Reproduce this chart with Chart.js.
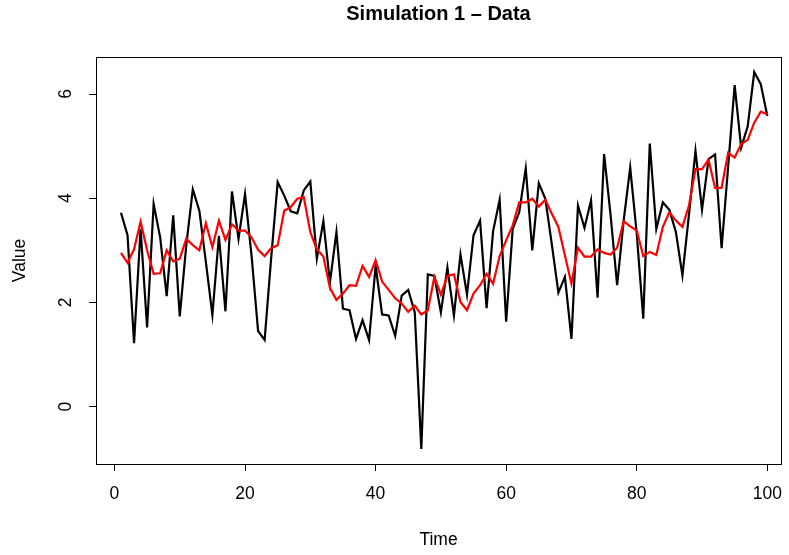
<!DOCTYPE html>
<html>
<head>
<meta charset="utf-8">
<script src="https://cdn.jsdelivr.net/npm/chart.js@4.4.1/dist/chart.umd.min.js"></script>
<style>
  html, body { margin: 0; padding: 0; background: #fff; }
  #wrap { width: 789px; height: 555px; }
</style>
</head>
<body>
<div id="wrap"><canvas id="chart" width="789" height="555"></canvas></div>
<script>
// Data
const dataValues = [
  3.72, 3.29, 1.22, 3.41, 1.52, 3.89, 3.25, 2.12, 3.67, 1.73,
  3.10, 4.17, 3.76, 2.78, 1.76, 3.28, 1.83, 4.13, 3.22, 4.08,
  2.90, 1.45, 1.28, 2.85, 4.31, 4.05, 3.75, 3.71, 4.15, 4.32,
  2.84, 3.56, 2.38, 3.35, 1.88, 1.85, 1.30, 1.66, 1.28, 2.70,
  1.77, 1.75, 1.36, 2.13, 2.24, 1.81, -0.81, 2.54, 2.51, 1.81,
  2.67, 1.75, 2.92, 2.15, 3.29, 3.57, 1.89, 3.37, 3.97, 1.63,
  3.41, 3.73, 4.57, 3.00, 4.29, 3.99, 3.11, 2.19, 2.49, 1.30,
  3.86, 3.43, 3.96, 2.09, 4.85, 3.67, 2.33, 3.57, 4.59, 3.32,
  1.69, 5.05, 3.41, 3.92, 3.78, 3.35, 2.52, 3.68, 4.91, 3.78,
  4.75, 4.84, 3.04, 4.60, 6.17, 4.97, 5.38, 6.42, 6.19, 5.58
];
const fittedValues = [
  2.95, 2.76, 3.02, 3.55, 3.00, 2.55, 2.56, 3.00, 2.79, 2.84,
  3.22, 3.10, 3.00, 3.52, 3.06, 3.57, 3.20, 3.50, 3.38, 3.38,
  3.25, 3.01, 2.89, 3.04, 3.10, 3.76, 3.83, 3.99, 4.02, 3.35,
  3.02, 2.88, 2.28, 2.05, 2.17, 2.33, 2.32, 2.70, 2.49, 2.81,
  2.40, 2.24, 2.08, 1.98, 1.82, 1.94, 1.77, 1.85, 2.49, 2.15,
  2.51, 2.54, 2.01, 1.85, 2.17, 2.33, 2.55, 2.36, 2.89, 3.19,
  3.48, 3.92, 3.92, 3.99, 3.84, 3.97, 3.70, 3.45, 2.90, 2.36,
  3.05, 2.88, 2.88, 3.02, 2.95, 2.92, 3.05, 3.56, 3.46, 3.38,
  2.89, 2.97, 2.91, 3.45, 3.73, 3.57, 3.45, 3.86, 4.56, 4.56,
  4.74, 4.20, 4.20, 4.87, 4.78, 5.04, 5.12, 5.45, 5.66, 5.61
];
const xTicks = [0, 20, 40, 60, 80, 100];
const yTicks = [0, 2, 4, 6];

const FONT = "'Liberation Sans', Arial, Helvetica, sans-serif";
const AXIS_SIZE = 17.5;

function toPoints(vals){ return vals.map((v,i)=>({x:i+1, y:v})); }

// box round the plot and rotated y tick labels, like base R
const rStyle = {
  id: 'rStyle',
  afterDraw(chart){
    const ctx = chart.ctx, a = chart.chartArea;
    ctx.save();
    ctx.strokeStyle = '#000';
    ctx.lineWidth = 1;
    ctx.strokeRect(a.left+0.5, a.top+0.5, a.right-a.left, a.bottom-a.top);
    const ys = chart.scales.y;
    ctx.fillStyle = '#000';
    ctx.font = AXIS_SIZE + 'px ' + FONT;
    ctx.textAlign = 'center';
    ctx.textBaseline = 'middle';
    ys.ticks.forEach(t=>{
      const py = ys.getPixelForValue(t.value);
      ctx.save();
      ctx.translate(66, py);
      ctx.rotate(-Math.PI/2);
      ctx.fillText(String(t.value), 0, 0);
      ctx.restore();
    });
    ctx.restore();
  }
};

new Chart(document.getElementById('chart'), {
  type: 'line',
  data: {
    datasets: [
      {label:'Data', data: toPoints(dataValues), borderColor:'#000', borderWidth:2.2,
       pointRadius:0, tension:0, fill:false, order:2},
      {label:'Fitted', data: toPoints(fittedValues), borderColor:'#ff0000', borderWidth:2.2,
       pointRadius:0, tension:0, fill:false, order:1}
    ]
  },
  options: {
    responsive:false, animation:false, devicePixelRatio:1,
    layout:{padding:{left:0, right:8, top:0, bottom:0}},
    plugins:{
      legend:{display:false}, tooltip:{enabled:false},
      title:{display:true, fullSize:false, text:'Simulation 1 \u2013 Data', color:'#000',
        font:{family:FONT, size:20, weight:'bold'}, padding:{top:2, bottom:31}}
    },
    scales:{
      x:{type:'linear', min:-2.83, max:102.1,
        afterBuildTicks: s=>{ s.ticks = xTicks.map(v=>({value:v})); },
        afterFit: s=>{ s.height = 91; s.paddingLeft = 0; s.paddingRight = 0; },
        grid:{drawOnChartArea:false, drawTicks:true, tickLength:7, color:'#000'},
        border:{display:false},
        ticks:{color:'#000', padding:12.5, maxRotation:0, font:{family:FONT, size:AXIS_SIZE}},
        title:{display:true, text:'Time', color:'#000', font:{family:FONT, size:AXIS_SIZE}, padding:{top:0, bottom:4.5}}
      },
      y:{type:'linear', min:-1.1, max:6.71,
        afterBuildTicks: s=>{ s.ticks = yTicks.map(v=>({value:v})); },
        afterFit: s=>{ s.width = 96; s.paddingTop = 0; s.paddingBottom = 0; },
        grid:{drawOnChartArea:false, drawTicks:true, tickLength:7, color:'#000'},
        border:{display:false},
        ticks:{color:'rgba(0,0,0,0)', font:{family:FONT, size:AXIS_SIZE}},
        title:{display:true, text:'Value', color:'#000', font:{family:FONT, size:AXIS_SIZE}, padding:{top:9.5, bottom:0}}
      }
    }
  },
  plugins:[rStyle]
});
</script>
</body>
</html>
